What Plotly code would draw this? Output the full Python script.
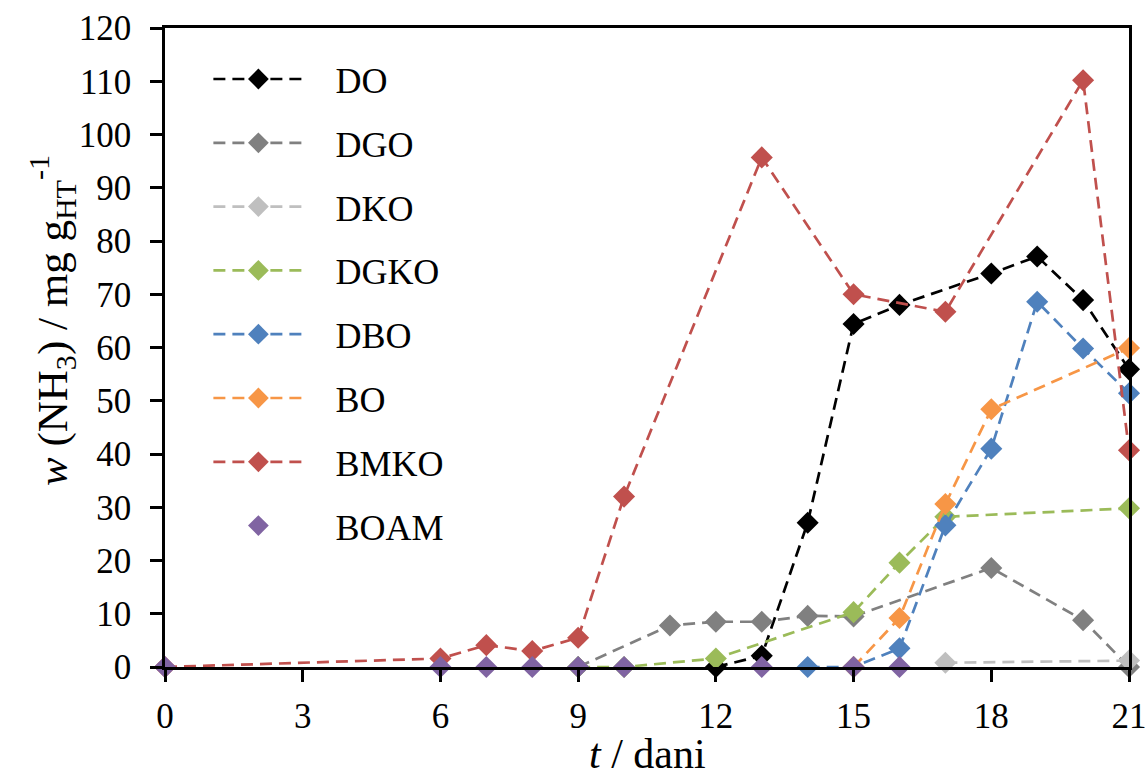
import plotly.graph_objects as go

# ---- data ----
do_x = [12, 13, 14, 15, 16, 18, 19, 20, 21]
do_y = [0, 2.1, 27.1, 64.4, 68.0, 73.9, 77.1, 68.9, 55.9]

dgo_x = [9, 11, 12, 13, 14, 15, 18, 20, 21]
dgo_y = [0, 7.8, 8.5, 8.5, 9.6, 9.5, 18.6, 8.8, 0]

dko_x = [17, 21]
dko_y = [0.8, 1.2]

dgko_x = [9, 10, 12, 15, 16, 17, 21]
dgko_y = [0, 0, 1.6, 10.3, 19.6, 28.2, 29.8]

dbo_x = [14, 15, 16, 17, 18, 19, 20, 21]
dbo_y = [0, 0, 3.5, 26.6, 41.0, 68.6, 59.8, 51.4]

bo_x = [15, 16, 17, 18, 21]
bo_y = [0, 9.2, 30.6, 48.4, 59.9]

bmko_x = [0, 6, 7, 8, 9, 10, 13, 15, 17, 20, 21]
bmko_y = [0, 1.6, 4.1, 3.0, 5.5, 32.0, 95.7, 70.0, 66.7, 110.2, 40.7]

boam_x = [0, 6, 7, 8, 9, 10, 13, 15, 16]
boam_y = [0, 0, 0, 0, 0, 0, 0, 0, 0]

x_ticks = [0, 3, 6, 9, 12, 15, 18, 21]
y_ticks = list(range(0, 121, 10))

series = [
    ("DO", do_x, do_y, "#000000", "lines+markers"),
    ("DGO", dgo_x, dgo_y, "#808080", "lines+markers"),
    ("DKO", dko_x, dko_y, "#BFBFBF", "lines+markers"),
    ("DGKO", dgko_x, dgko_y, "#9BBB59", "lines+markers"),
    ("DBO", dbo_x, dbo_y, "#4F81BD", "lines+markers"),
    ("BO", bo_x, bo_y, "#F79646", "lines+markers"),
    ("BMKO", bmko_x, bmko_y, "#C0504D", "lines+markers"),
    ("BOAM", boam_x, boam_y, "#8064A2", "markers"),
]

FONT = "Liberation Serif"
PAD = "\u00a0\u00a0\u00a0"

fig = go.Figure()
for name, xs, ys, col, mode in series:
    fig.add_trace(go.Scatter(
        x=xs, y=ys, name=PAD + name, mode=mode, legendgroup=name,
        line=dict(color=col, width=2.7, dash="12px,7px"),
        marker=dict(symbol="diamond", size=17, color=col),
        cliponaxis=False,
    ))

axis_common = dict(
    showline=True, linecolor="black", linewidth=2.5, mirror=True,
    ticks="outside", ticklen=12, tickwidth=2.5, tickcolor="black",
    showgrid=False, zeroline=False, ticklabeloverflow="allow",
    automargin=False,
    tickfont=dict(family=FONT, size=35, color="black"),
)

fig.update_layout(
    width=1145, height=782,
    margin=dict(l=165, r=16, t=28, b=115),
    paper_bgcolor="white", plot_bgcolor="white",
    font=dict(family=FONT, color="black"),
    xaxis=dict(range=[0, 21], tickvals=x_ticks, ticklabelstandoff=4, **axis_common),
    yaxis=dict(range=[0, 120], tickvals=y_ticks, ticklabelstandoff=12, **axis_common),
    legend=dict(
        x=0.045, y=0.967, xanchor="left", yanchor="top",
        font=dict(family=FONT, size=36, color="black"),
        tracegroupgap=14, itemwidth=90, bgcolor="rgba(0,0,0,0)",
    ),
    showlegend=True,
    annotations=[
        dict(text="<i>t</i> / dani", xref="paper", yref="paper",
             x=0.5, y=(667 - 754) / 639, xanchor="center", yanchor="middle",
             showarrow=False, font=dict(family=FONT, size=42, color="black")),
        dict(text="<i>w</i> (NH<sub>3</sub>) / mg g<sub>HT</sub><sup>-1</sup>",
             xref="paper", yref="paper", textangle=-90,
             x=(52 - 165) / 964, y=(667 - 321) / 639,
             xanchor="center", yanchor="middle",
             showarrow=False, font=dict(family=FONT, size=43, color="black")),
    ],
)

fig.write_html("out.html")
